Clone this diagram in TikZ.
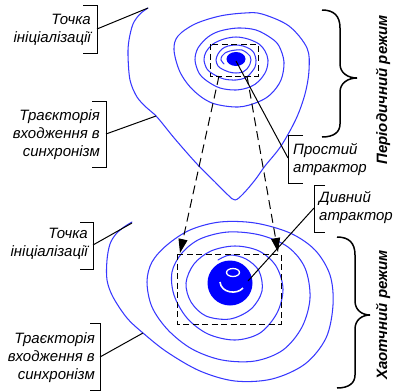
\documentclass[tikz,border=0pt]{standalone}
\usepackage{fontspec}
\setmainfont{Liberation Sans}
\usetikzlibrary{arrows.meta}
\definecolor{trajc}{RGB}{55,55,255}
\definecolor{blobc}{RGB}{0,0,255}
\begin{document}
\begin{tikzpicture}[x=1pt,y=-1pt,
  trajline/.style={draw=trajc, line width=1.05pt, line join=round, line cap=round},
  lbl/.style={font=\fontsize{15}{18}\selectfont\itshape, inner sep=0pt},
  rotlbl/.style={font=\fontsize{15}{18}\selectfont\bfseries\itshape, inner sep=0pt, rotate=90},
  brk/.style={draw=black, line width=0.9pt},
  pointer/.style={draw=black, line width=1pt},
  bracestyle/.style={draw=black, line width=1.5pt},
  dashbox/.style={draw=black, line width=1pt, dash pattern=on 6pt off 3.5pt},
  zoomarrow/.style={draw=black, line width=1pt, dash pattern=on 9pt off 5pt, -{Triangle[length=14pt,width=9pt]}}
]
\useasboundingbox (0,0) rectangle (398,391);

% ---------- top (periodic) trajectory ----------
\draw[trajline] plot[smooth, tension=0.55] coordinates {
 (148,8) (140,14) (133,24) (129,40) (128,55) (130,80) (137,97) (147,108) (157,117)
 (175,139) (197,164) (215,182) (228,195) (235,200) (243,194) (255,180) (265,166)
 (281,146) (296,119) (305,94) (309,70)
 (307,48) (289,26) (262,14) (245,13) (220,16) (195,24) (178,36) (174,50) (180,72) (193,90)
 (212,103) (238,107) (258,102) (271,94) (281,80) (284,62) (279,46) (271,38) (256,30)
 (238,28) (220,31) (208,37) (198,48) (195,60) (199,73) (207,81) (220,88) (236,90)
 (250,87) (259,81) (266,71) (268,60) (265,51) (259,44) (248,39) (236,37) (224,39)
 (213,44) (206,52) (204,60) (207,69) (213,74) (224,79) (236,80) (245,78) (250,74)
 (255,67) (256,60) (254,53) (250,49) (243,46) (236,45) (228,46) (222,49) (218,54)
 (216,60) (218,66) (222,69) (229,72) (236,73) (243,72) (247,69) (250,64) (251,60)
 (250,56) (247,53) (242,50) (236,50) (230,51) (225,53) (222,56) (221,60) (224,64)};
\fill[blobc] (236,59) ellipse [x radius=9.5pt, y radius=7pt];

% ---------- bottom (chaotic) trajectory ----------
\draw[trajline] plot[smooth, tension=0.55] coordinates {
 (132,222) (124,227) (116,234) (110,244) (107,260) (107,280) (113,297) (127,318)
 (143,333) (167,352) (200,371) (235,381) (272,379) (305,364) (326,338) (333,305)
 (330,275) (315,250) (290,233) (255,223) (220,222) (190,230) (167,245) (152,262)
 (147,282) (152,307) (168,330) (192,349) (222,360) (255,361) (283,350) (302,327)
 (310,298) (305,268) (288,247) (260,235) (228,232) (200,239) (182,253) (172,272)
 (174,295) (187,318) (208,334) (235,340) (260,333) (277,313) (283,289) (276,266)
 (259,251) (235,246) (211,251) (194,264) (186,283) (191,302) (206,316) (230,319)
 (251,309) (262,291) (259,271) (246,259) (230,255) (218,260)};
\fill[blobc] (230,283) circle [radius=22.5pt];
\draw[white, line width=1.3pt] (233,272.5) ellipse [x radius=6.5pt, y radius=4pt];
\draw[white, line width=1.6pt] (220,282) .. controls (221,293) and (237,295) .. (243,288);

% ---------- zoom boxes and arrows ----------
\draw[dashbox] (210,44) rectangle (258,76);
\draw[dashbox] (177,254) rectangle (281,324);
\coordinate (a1s) at (219,76);
\coordinate (a1e) at (180,253);
\coordinate (a2s) at (247,76);
\coordinate (a2e) at (278,252);
\draw[zoomarrow] (a1s) -- (a1e);
\draw[zoomarrow] (a2s) -- (a2e);

% ---------- labels ----------
\node[lbl, anchor=east, align=right] (tI1) at (91,29.5) {Точка\\ініціалізації};
\draw[brk] (83,5) -- (97,5) -- (97,53) -- (83,53);
\coordinate (b1) at (97,29);
\coordinate (p1) at (148,8);
\draw[pointer] (b1) -- (p1);

\node[lbl, anchor=east, align=right] (tT1) at (100,135) {Траєкторія\\входження в\\синхронізм};
\draw[brk] (92,101) -- (106,101) -- (106,167) -- (92,167);
\coordinate (b2) at (106,134);
\coordinate (p2) at (156,116);
\draw[pointer] (b2) -- (p2);

\node[lbl, anchor=east, align=right] (tI2) at (88,244) {Точка\\ініціалізації};
\draw[brk] (80,222) -- (93,222) -- (93,269) -- (80,269);
\coordinate (b3) at (93,245);
\coordinate (p3) at (132,223);
\draw[pointer] (b3) -- (p3);

\node[lbl, anchor=east, align=right] (tT2) at (95,358) {Траєкторія\\входження в\\синхронізм};
\draw[brk] (90,323) -- (100,323) -- (100,390) -- (90,390);
\coordinate (b4) at (100,357);
\coordinate (p4) at (143,333);
\draw[pointer] (b4) -- (p4);

\node[lbl, anchor=west, align=left] (tS) at (293,160) {Простий\\атрактор};
\draw[brk] (303,135) -- (288,135) -- (288,183) -- (303,183);
\coordinate (b5) at (288,158);
\coordinate (p5) at (236,61);
\draw[pointer] (b5) -- (p5);

\node[lbl, anchor=west, align=left] (tD) at (319,208) {Дивний\\атрактор};
\draw[brk] (325,185) -- (314,185) -- (314,232) -- (325,232);
\coordinate (b6) at (314,208);
\coordinate (p6) at (248,281);
\draw[pointer] (b6) -- (p6);

% ---------- braces ----------
\draw[bracestyle] (322,10) .. controls (334,10) and (340,16) .. (340,28) -- (340,64)
  .. controls (340,73) and (348,78) .. (357,78) .. controls (348,78) and (340,83) .. (340,92)
  -- (340,124) .. controls (340,132) and (334,137) .. (322,137);
\draw[bracestyle] (337,237) .. controls (349,237) and (355,243) .. (355,255) -- (355,301)
  .. controls (355,310) and (362,315) .. (370,315) .. controls (362,315) and (355,320) .. (355,329)
  -- (355,375) .. controls (355,383) and (349,388) .. (337,388);

\node[rotlbl] (tP) at (383,90) {Періодичний режим};
\node[rotlbl] (tH) at (383,315) {Хаотчний режим};
\end{tikzpicture}
\end{document}
